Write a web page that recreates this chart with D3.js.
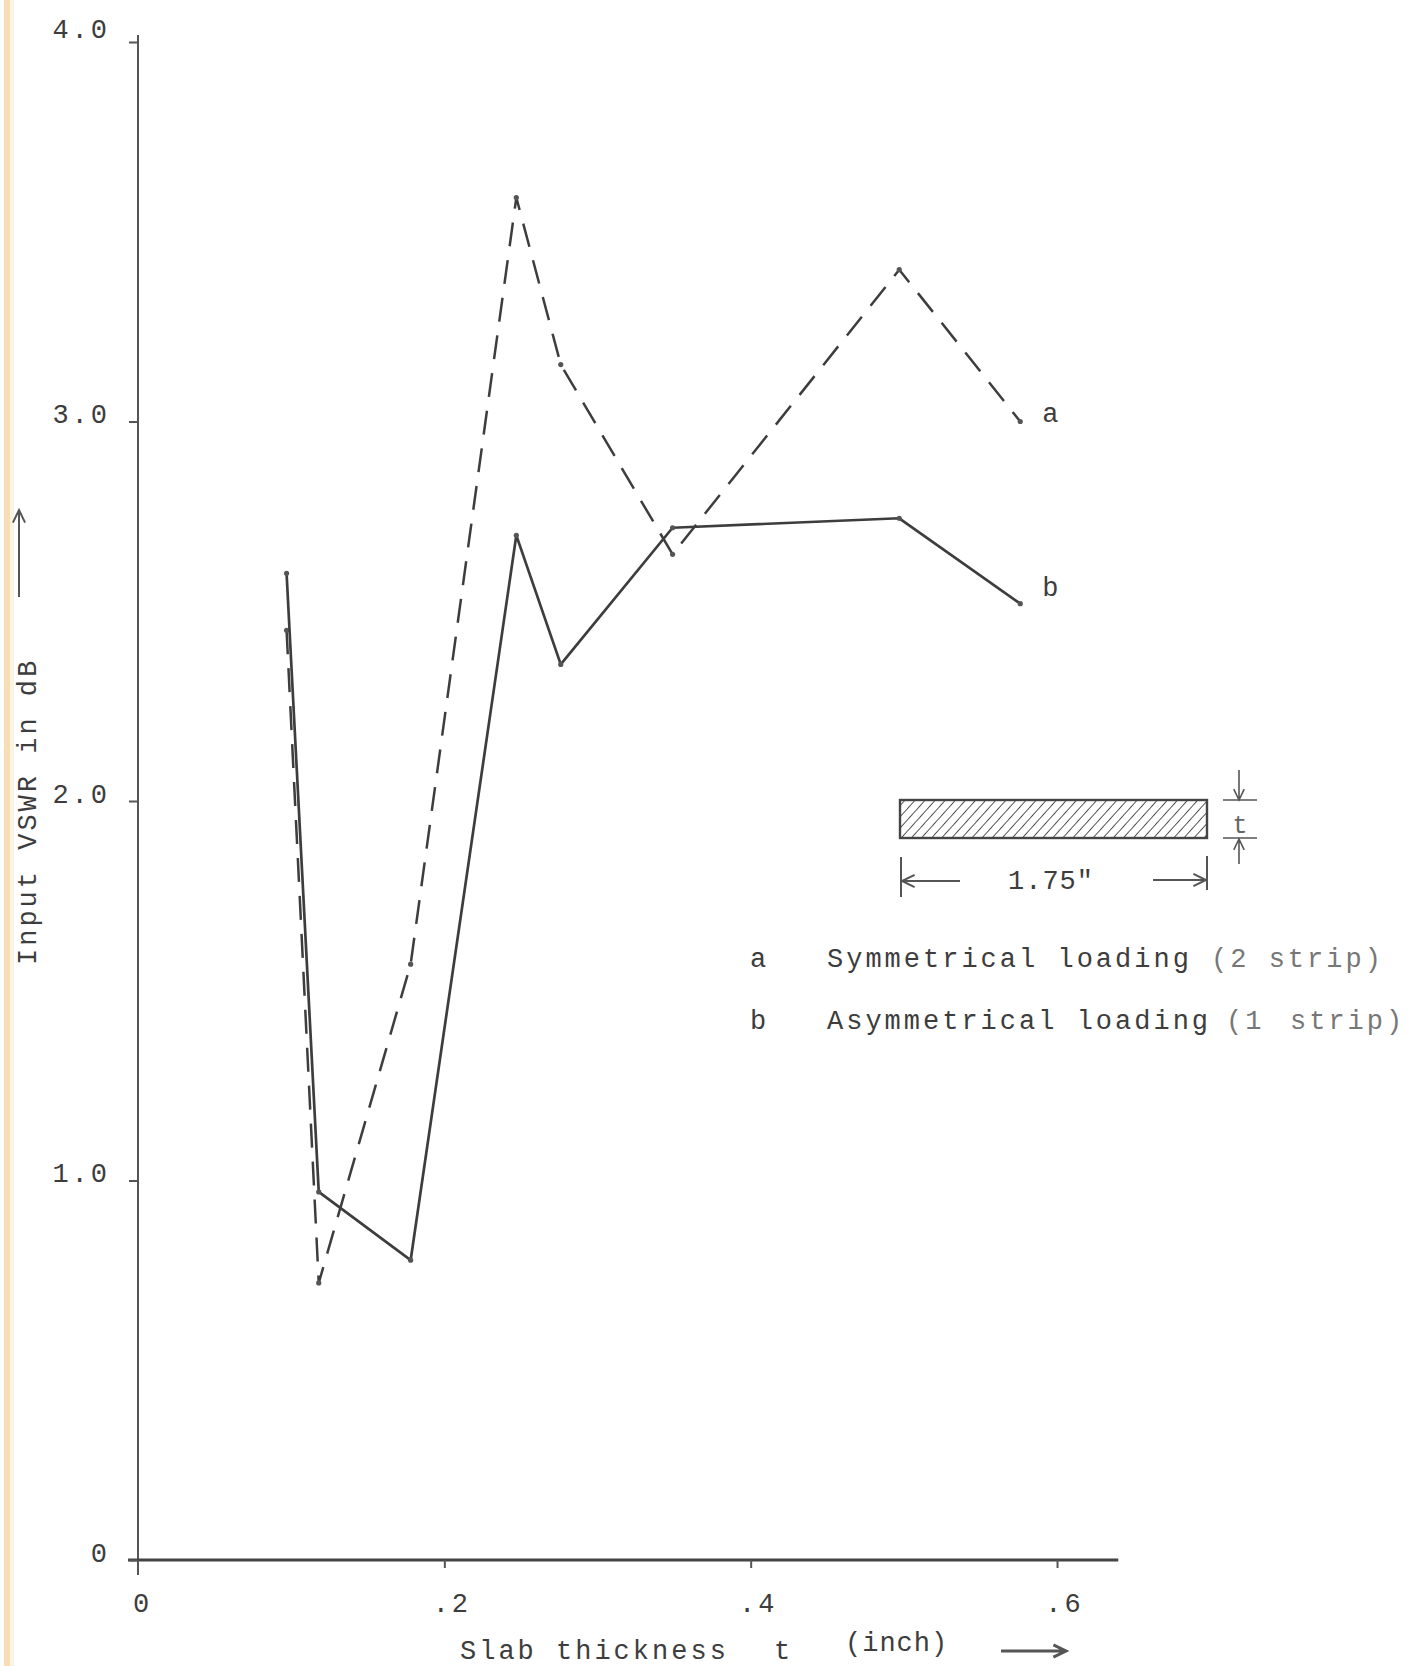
<!DOCTYPE html>
<html>
<head>
<meta charset="utf-8">
<script src="https://cdn.jsdelivr.net/npm/d3@7"></script>
<style>
  html, body { margin: 0; padding: 0; background: #ffffff; }
  svg { display: block; }
  text { font-family: "Liberation Mono", "DejaVu Sans Mono", monospace; }
</style>
</head>
<body>
<svg id="chart" width="1408" height="1666"></svg>
<script>
// Slab thickness t (inch) at each measured point
const thickness = [0.097, 0.118, 0.178, 0.247, 0.276, 0.349, 0.497, 0.576];
// a: symmetrical loading (2 strip), input VSWR in dB
const vswrSymmetrical = [2.45, 0.73, 1.57, 3.59, 3.15, 2.65, 3.40, 3.00];
// b: asymmetrical loading (1 strip), input VSWR in dB
const vswrAsymmetrical = [2.60, 0.97, 0.79, 2.70, 2.36, 2.72, 2.745, 2.52];

const xTicks = [0, 0.2, 0.4, 0.6];
const xTickLabels = ["0", ".2", ".4", ".6"];
const yTicks = [0, 1, 2, 3, 4];
const yTickLabels = ["0", "1.0", "2.0", "3.0", "4.0"];
const seriesKeys = ["a", "b"];
const legendTexts = ["Symmetrical loading (2 strip)", "Asymmetrical loading (1 strip)"];
const slabWidthLabel = "1.75\"";

const ink = "#3d3d3d";
const inkSoft = "#666";
const fontSize = 27;
const spacing = 3;

const svg = d3.select("#chart");

// page edge tint along the left margin
svg.append("rect").attr("x", 4).attr("y", 0).attr("width", 6).attr("height", 1666)
  .attr("fill", "#f6d8a8").attr("opacity", 0.85);
svg.append("rect").attr("x", 10).attr("y", 0).attr("width", 4).attr("height", 1666)
  .attr("fill", "#fbeedb").attr("opacity", 0.7);

const x = d3.scaleLinear().domain([0, 0.64]).range([138, 138 + 0.64 * 1531.7]);
const y = d3.scaleLinear().domain([0, 4]).range([1560, 42]);

// axis lines
svg.append("line")
  .attr("x1", x(0)).attr("x2", x(0))
  .attr("y1", y(4) - 7).attr("y2", y(0) + 15)
  .attr("stroke", "#555").attr("stroke-width", 2);
svg.append("line")
  .attr("x1", x(0) - 10).attr("x2", x(0.64))
  .attr("y1", y(0)).attr("y2", y(0))
  .attr("stroke", "#444").attr("stroke-width", 3);

// y axis ticks and labels
const yAxis = svg.append("g")
  .attr("transform", `translate(${x(0)},0)`)
  .call(d3.axisLeft(y).tickValues(yTicks).tickSize(9).tickPadding(19)
    .tickFormat((d, i) => yTickLabels[i]));
yAxis.select(".domain").remove();
yAxis.selectAll(".tick line").attr("stroke", "#555").attr("stroke-width", 2);
yAxis.selectAll(".tick text")
  .attr("fill", ink).attr("font-size", fontSize).attr("letter-spacing", spacing)
  .attr("font-family", "Liberation Mono, DejaVu Sans Mono, monospace")
  .attr("dy", d => d === 4 ? "-0.15em" : "0.05em");

// x axis ticks and labels
const xAxis = svg.append("g")
  .attr("transform", `translate(0,${y(0)})`)
  .call(d3.axisBottom(x).tickValues(xTicks).tickSize(8)
    .tickFormat((d, i) => xTickLabels[i]));
xAxis.select(".domain").remove();
xAxis.selectAll(".tick line")
  .attr("stroke", "#555").attr("stroke-width", 2)
  .attr("opacity", d => d === 0 ? 0 : 1);
xAxis.selectAll(".tick text")
  .attr("fill", ink).attr("font-size", fontSize).attr("letter-spacing", spacing)
  .attr("font-family", "Liberation Mono, DejaVu Sans Mono, monospace")
  .attr("y", 52).attr("dy", 0)
  .attr("dx", d => d === 0 ? 4 : 7);

// curves
const line = d3.line()
  .x((d, i) => x(thickness[i]))
  .y(d => y(d));

const series = [
  { key: seriesKeys[0], values: vswrSymmetrical, dash: "24 14", width: 2.5, labelDy: 0 },
  { key: seriesKeys[1], values: vswrAsymmetrical, dash: null, width: 2.7, labelDy: -8 }
];

series.forEach(s => {
  svg.append("path")
    .datum(s.values)
    .attr("d", line)
    .attr("fill", "none")
    .attr("stroke", ink)
    .attr("stroke-width", s.width)
    .attr("stroke-linejoin", "round")
    .attr("stroke-dasharray", s.dash);
  svg.append("g").selectAll("circle")
    .data(s.values)
    .join("circle")
    .attr("cx", (d, i) => x(thickness[i]))
    .attr("cy", d => y(d))
    .attr("r", 2.6)
    .attr("fill", "#555");
  const last = s.values.length - 1;
  svg.append("text")
    .attr("x", x(thickness[last]) + 22)
    .attr("y", y(s.values[last]) + s.labelDy)
    .attr("fill", ink).attr("font-size", fontSize)
    .text(s.key);
});

// axis titles
svg.append("text")
  .attr("transform", "translate(36,965) rotate(-90)")
  .attr("fill", ink).attr("font-size", fontSize).attr("letter-spacing", spacing)
  .text("Input VSWR in dB");

const arrowPath = (x1, y1, x2, y2, head) => {
  const a = Math.atan2(y2 - y1, x2 - x1);
  const h1 = [x2 - head * Math.cos(a - 0.45), y2 - head * Math.sin(a - 0.45)];
  const h2 = [x2 - head * Math.cos(a + 0.45), y2 - head * Math.sin(a + 0.45)];
  return `M${x1},${y1}L${x2},${y2}M${h1[0]},${h1[1]}L${x2},${y2}L${h2[0]},${h2[1]}`;
};

svg.append("path").attr("d", arrowPath(19, 597, 19, 510, 14))
  .attr("fill", "none").attr("stroke", "#555").attr("stroke-width", 2);

const xTitle = svg.append("g").attr("fill", ink).attr("font-size", fontSize);
xTitle.append("text").attr("x", 460).attr("y", 1659).attr("letter-spacing", spacing)
  .text("Slab thickness");
xTitle.append("text").attr("x", 774).attr("y", 1659).text("t");
xTitle.append("text").attr("x", 845).attr("y", 1651).attr("letter-spacing", 1)
  .text("(inch)");
svg.append("path").attr("d", arrowPath(1001, 1651, 1066, 1651, 14))
  .attr("fill", "none").attr("stroke", "#555").attr("stroke-width", 3);

// slab cross-section sketch
const defs = svg.append("defs");
defs.append("pattern")
  .attr("id", "hatch")
  .attr("patternUnits", "userSpaceOnUse")
  .attr("width", 7.5).attr("height", 7.5)
  .attr("patternTransform", "rotate(42)")
  .append("line")
  .attr("x1", 0).attr("y1", 0).attr("x2", 0).attr("y2", 7.5)
  .attr("stroke", "#444").attr("stroke-width", 1.8);

const slab = svg.append("g");
slab.append("rect")
  .attr("x", 900).attr("y", 800).attr("width", 307).attr("height", 38)
  .attr("fill", "url(#hatch)")
  .attr("stroke", "#444").attr("stroke-width", 2.4);

const dim = (d, w) => slab.append("path").attr("d", d).attr("fill", "none")
  .attr("stroke", "#555").attr("stroke-width", w || 2);

dim("M901,857L901,897");
dim(arrowPath(960, 881, 902, 881, 14));
dim("M1207,856L1207,890");
dim(arrowPath(1153, 880, 1206, 880, 14));
slab.append("text").attr("x", 1008).attr("y", 889)
  .attr("fill", ink).attr("font-size", fontSize).attr("letter-spacing", 1)
  .text(slabWidthLabel);

dim(arrowPath(1239, 770, 1239, 800, 12), 1.6);
dim("M1223,800L1257,800", 1.6);
dim("M1223,838L1257,838", 1.6);
dim(arrowPath(1239, 864, 1239, 839, 12), 1.6);
slab.append("text").attr("x", 1240).attr("y", 833).attr("text-anchor", "middle")
  .attr("fill", inkSoft).attr("font-size", 25).text("t");

// legend
const legend = svg.append("g").attr("font-size", fontSize).attr("fill", ink);
const legendY = [967, 1029];
seriesKeys.forEach((k, i) => {
  legend.append("text").attr("x", 750).attr("y", legendY[i]).text(k);
});
const l1 = legend.append("text").attr("x", 827).attr("y", legendY[0]).attr("letter-spacing", spacing);
l1.append("tspan").text(legendTexts[0].slice(0, 20));
l1.append("tspan").attr("fill", "#777").text(legendTexts[0].slice(20));

const parts2 = legendTexts[1].split(" ");
const l2 = legend.append("text").attr("y", legendY[1]).attr("letter-spacing", spacing);
l2.append("tspan").attr("x", 827).text(parts2[0] + " " + parts2[1]);
l2.append("tspan").attr("x", 1226).attr("fill", "#777").text(parts2[2]);
l2.append("tspan").attr("x", 1290).attr("fill", "#777").text(parts2[3]);
</script>
</body>
</html>
